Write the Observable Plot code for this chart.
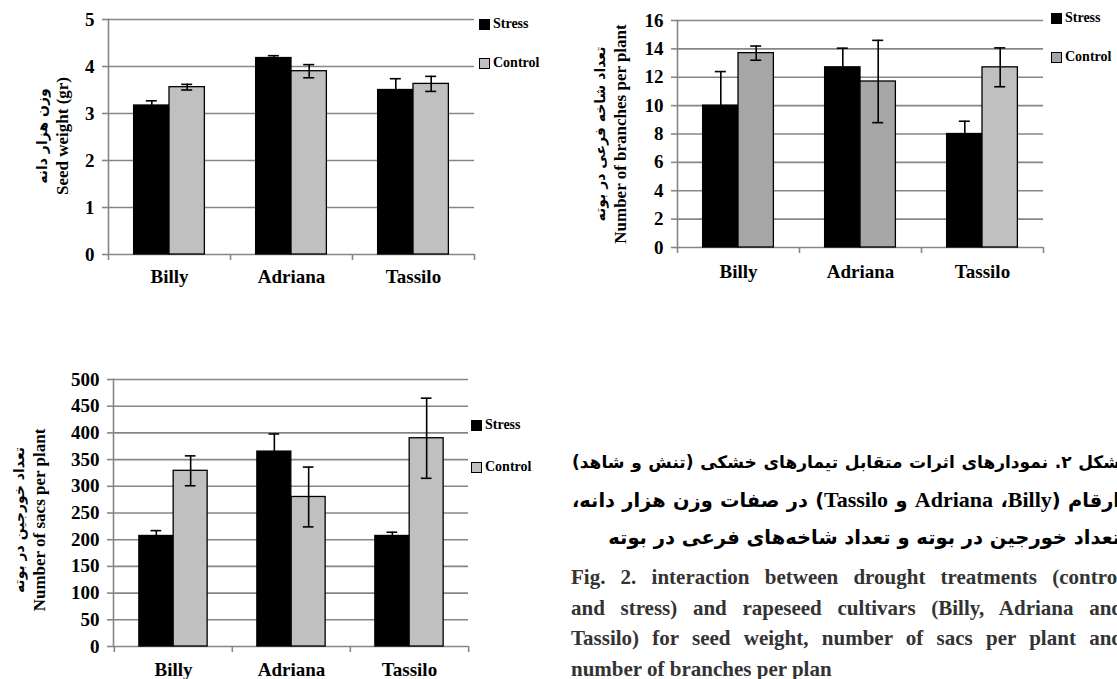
<!DOCTYPE html>
<html><head><meta charset="utf-8">
<script src="https://cdn.jsdelivr.net/npm/d3@7"></script>
<script src="https://cdn.jsdelivr.net/npm/@observablehq/plot@0.6"></script>
<style>
html,body{margin:0;padding:0;background:#fff;}
body{width:1117px;height:679px;overflow:hidden;position:relative;font-family:"Liberation Serif",serif;}
.panel{position:absolute;}
.panel svg{font-family:"Liberation Serif",serif !important;}
.ytitle{position:absolute;transform:translate(-50%,-50%) rotate(-90deg);white-space:nowrap;text-align:center;font-weight:bold;color:#000;}
.ytitle .fa{font-family:"DejaVu Sans",sans-serif;font-size:14px;line-height:21px;direction:rtl;}
.ytitle .en{font-family:"Liberation Serif",serif;font-size:17px;line-height:19px;}
.legend{position:absolute;font:bold 14px "Liberation Serif",serif;color:#000;}
.legend .item{position:absolute;white-space:nowrap;display:flex;align-items:center;}
.legend .sw{width:11px;height:11px;border:1px solid #000;margin-right:3px;box-sizing:border-box;}
.cap{position:absolute;font-weight:bold;}
.cap .j{text-align:justify;text-align-last:justify;white-space:nowrap;}
#capFa{left:572px;top:444px;width:548px;direction:rtl;font-family:"DejaVu Sans",sans-serif;font-size:19.5px;line-height:37px;color:#000;}
#capFa .lat{font-family:"Liberation Serif",serif;font-size:22px;unicode-bidi:isolate;direction:ltr;}
#capFa .last{text-align:right;}
#capEn{left:571px;top:562px;width:552px;font-family:"Liberation Serif",serif;font-size:21px;line-height:30.5px;color:#333;}
</style></head><body>
<div id="root"></div>
<div id="capFa" class="cap">
  <div class="j">شکل ۲. نمودارهای اثرات متقابل تیمارهای خشکی (تنش و شاهد)</div>
  <div class="j">ارقام (<span class="lat">Billy</span>، <span class="lat">Adriana</span> و <span class="lat">Tassilo</span>) در صفات وزن هزار دانه،</div>
  <div class="last">تعداد خورجین در بوته و تعداد شاخه‌های فرعی در بوته</div>
</div>
<div id="capEn" class="cap">
  <div class="j">Fig. 2. interaction between drought treatments (control</div>
  <div class="j">and stress) and rapeseed cultivars (Billy, Adriana and</div>
  <div class="j">Tassilo) for seed weight, number of sacs per plant and</div>
  <div>number of branches per plan</div>
</div>
<script>
// ---------- data ----------
const cultivars = ["Billy", "Adriana", "Tassilo"];
const treatments = ["Stress", "Control"];

// Seed weight (gr)
const seedStress = [3.17, 4.18, 3.50];
const seedStressErr = [0.10, 0.05, 0.24];
const seedControl = [3.56, 3.90, 3.63];
const seedControlErr = [0.06, 0.14, 0.16];
const seedTicks = [0, 1, 2, 3, 4, 5];

// Number of branches per plant
const branchStress = [10.0, 12.7, 8.0];
const branchStressErr = [2.4, 1.35, 0.9];
const branchControl = [13.7, 11.7, 12.7];
const branchControlErr = [0.5, 2.9, 1.37];
const branchTicks = [0, 2, 4, 6, 8, 10, 12, 14, 16];

// Number of sacs per plant
const sacsStress = [207, 365, 207];
const sacsStressErr = [10, 33, 7];
const sacsControl = [329, 280, 390];
const sacsControlErr = [28, 56, 75];
const sacsTicks = [0, 50, 100, 150, 200, 250, 300, 350, 400, 450, 500];

// texts
const seedTitleFa = "وزن هزار دانه";
const seedTitleEn = "Seed weight (gr)";
const branchTitleFa = "تعداد شاخه فرعی در بوته";
const branchTitleEn = "Number of branches per plant";
const sacsTitleFa = "تعداد خورجین در بوته";
const sacsTitleEn = "Number of sacs per plant";

// ---------- drawing ----------
const gray = "#868686";
const black = "#000000";
const lightGray = "#c0c0c0";
const midGray = "#a6a6a6";
const serif = "Liberation Serif";
const root = document.getElementById("root");

function panel(cfg) {
  const {stress, stressErr, control, controlErr, ticks, width, height, ml, mr, mt, mb, controlFill, labelPad, left, top} = cfg;
  const rows = cultivars.flatMap((c, i) => [
    {cultivar: c, treatment: treatments[0], value: stress[i], err: stressErr[i]},
    {cultivar: c, treatment: treatments[1], value: control[i], err: controlErr[i]}
  ]);
  const S = rows.filter(d => d.treatment === treatments[0]);
  const C = rows.filter(d => d.treatment === treatments[1]);
  const bw = (width - ml - mr) / cultivars.length;
  const g = 0.58, half = bw / 2, side = bw * (1 - g) / 2, barW = bw * g / 2;
  const sc = side + barW / 2, cc = half + barW / 2, cap = 5.5;
  const errStyle = {stroke: black, strokeWidth: 1.6};
  const txt = {fontFamily: serif, fontWeight: "bold", fontSize: 19, fill: "#000"};
  const chart = Plot.plot({
    width, height, marginLeft: ml, marginRight: mr, marginTop: mt, marginBottom: mb,
    style: {fontFamily: serif, fontWeight: "bold", fontSize: "19px", color: "#000", background: "transparent", overflow: "visible"},
    x: {type: "band", domain: cultivars, padding: 0},
    y: {domain: [0, ticks[ticks.length - 1]]},
    marks: [
      Plot.gridY({ticks, stroke: gray, strokeOpacity: 1, strokeWidth: 1.6}),
      Plot.barY(S, {x: "cultivar", y: "value", fill: black, stroke: black, strokeWidth: 1.3, insetLeft: side, insetRight: half}),
      Plot.barY(C, {x: "cultivar", y: "value", fill: controlFill, stroke: black, strokeWidth: 1.3, insetLeft: half, insetRight: side}),
      Plot.ruleX(S, {x: "cultivar", y1: d => d.value - d.err, y2: d => d.value + d.err, dx: sc - half, ...errStyle}),
      Plot.ruleX(C, {x: "cultivar", y1: d => d.value - d.err, y2: d => d.value + d.err, dx: cc - half, ...errStyle}),
      Plot.tickY(S, {x: "cultivar", y: d => d.value + d.err, insetLeft: sc - cap, insetRight: bw - sc - cap, ...errStyle}),
      Plot.tickY(S, {x: "cultivar", y: d => d.value - d.err, insetLeft: sc - cap, insetRight: bw - sc - cap, ...errStyle}),
      Plot.tickY(C, {x: "cultivar", y: d => d.value + d.err, insetLeft: cc - cap, insetRight: bw - cc - cap, ...errStyle}),
      Plot.tickY(C, {x: "cultivar", y: d => d.value - d.err, insetLeft: cc - cap, insetRight: bw - cc - cap, ...errStyle}),
      Plot.frame({anchor: "left", stroke: gray, strokeWidth: 1.6}),
      Plot.axisY({ticks, tickFormat: d => String(d), tickSize: 6, tickPadding: 8, stroke: gray, strokeWidth: 1.6, label: null, ...txt}),
      Plot.axisX({tickSize: 0, tickPadding: labelPad, label: null, ...txt}),
      Plot.axisX({tickSize: 6, fill: "none", dx: -half, stroke: gray, strokeWidth: 1.6, label: null}),
      Plot.axisX({ticks: [cultivars[cultivars.length - 1]], tickSize: 6, fill: "none", dx: half, stroke: gray, strokeWidth: 1.6, label: null})
    ]
  });
  const wrap = document.createElement("div");
  wrap.className = "panel";
  wrap.style.left = left + "px";
  wrap.style.top = top + "px";
  wrap.appendChild(chart);
  root.appendChild(wrap);

  // y title (two lines, rotated)
  const t = document.createElement("div");
  t.className = "ytitle";
  t.style.left = cfg.titleX + "px";
  t.style.top = cfg.titleY + "px";
  const fa = document.createElement("div"); fa.className = "fa"; fa.textContent = cfg.titleFa;
  const en = document.createElement("div"); en.className = "en"; en.textContent = cfg.titleEn;
  t.appendChild(fa); t.appendChild(en);
  root.appendChild(t);

  // legend
  const lg = document.createElement("div");
  lg.className = "legend";
  lg.style.left = cfg.legendX + "px";
  lg.style.top = cfg.legendY + "px";
  treatments.forEach((name, i) => {
    const it = document.createElement("div");
    it.className = "item";
    it.style.top = (i * cfg.legendGap) + "px";
    const sw = document.createElement("div");
    sw.className = "sw";
    sw.style.background = i === 0 ? black : cfg.legendControl;
    const tx = document.createElement("span");
    tx.textContent = name;
    it.appendChild(sw); it.appendChild(tx);
    lg.appendChild(it);
  });
  root.appendChild(lg);
}

panel({
  stress: seedStress, stressErr: seedStressErr, control: seedControl, controlErr: seedControlErr,
  ticks: seedTicks, left: 0, top: 0, width: 560, height: 300, ml: 108, mr: 86, mt: 19, mb: 46,
  controlFill: lightGray, labelPad: 15,
  titleFa: seedTitleFa, titleEn: seedTitleEn, titleX: 52, titleY: 136,
  legendX: 479, legendY: 16, legendGap: 39, legendControl: lightGray
});

panel({
  stress: branchStress, stressErr: branchStressErr, control: branchControl, controlErr: branchControlErr,
  ticks: branchTicks, left: 560, top: 0, width: 557, height: 300, ml: 117, mr: 74, mt: 20, mb: 53,
  controlFill: d => d.cultivar === cultivars[2] ? lightGray : midGray, labelPad: 17,
  titleFa: branchTitleFa, titleEn: branchTitleEn, titleX: 610, titleY: 134,
  legendX: 1051, legendY: 10, legendGap: 39, legendControl: midGray
});

panel({
  stress: sacsStress, stressErr: sacsStressErr, control: sacsControl, controlErr: sacsControlErr,
  ticks: sacsTicks, left: 0, top: 340, width: 560, height: 339, ml: 113, mr: 92, mt: 39, mb: 33,
  controlFill: lightGray, labelPad: 16,
  titleFa: sacsTitleFa, titleEn: sacsTitleEn, titleX: 29, titleY: 520,
  legendX: 471, legendY: 417, legendGap: 42, legendControl: lightGray
});

// shrink any caption line whose natural width exceeds its box, so it justifies within it
document.querySelectorAll(".cap .j").forEach(el => {
  const box = el.getBoundingClientRect().width;
  el.style.textAlignLast = "start";
  const r = document.createRange();
  r.selectNodeContents(el);
  const w = r.getBoundingClientRect().width;
  if (w > box - 6) {
    const fs = parseFloat(getComputedStyle(el).fontSize);
    el.style.fontSize = (fs * (box - 6) / w) + "px";
  }
  el.style.textAlignLast = "";
});
</script>
</body></html>
